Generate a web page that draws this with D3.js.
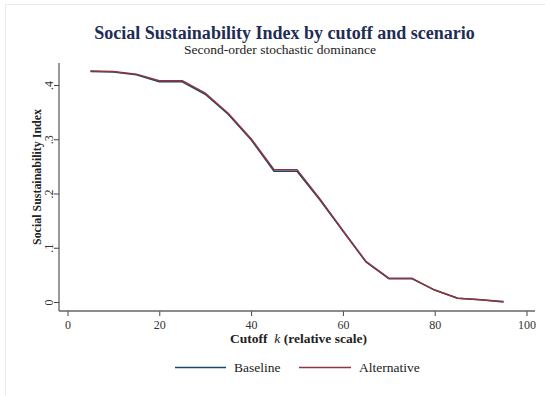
<!DOCTYPE html>
<html>
<head>
<meta charset="utf-8">
<script src="https://cdn.jsdelivr.net/npm/d3@7"></script>
<style>
  html, body { margin: 0; padding: 0; background: #ffffff; }
  svg { display: block; font-family: "Liberation Serif", "DejaVu Serif", serif; }
</style>
</head>
<body>
<svg id="chart" width="545" height="396"></svg>
<script>
// Cutoff values k (relative scale)
const cutoffs = [5, 10, 15, 20, 25, 30, 35, 40, 45, 50, 55, 60, 65, 70, 75, 80, 85, 90, 95];
// Social Sustainability Index per scenario
const baseline    = [0.425, 0.424, 0.419, 0.406, 0.406, 0.383, 0.346, 0.299, 0.241, 0.241, 0.188, 0.131, 0.074, 0.043, 0.043, 0.022, 0.007, 0.004, 0.000];
const alternative = [0.426, 0.425, 0.420, 0.408, 0.408, 0.385, 0.348, 0.301, 0.244, 0.244, 0.190, 0.132, 0.075, 0.044, 0.044, 0.022, 0.007, 0.004, 0.001];
const xTicks = [0, 20, 40, 60, 80, 100];
const yTicks = [0, 0.1, 0.2, 0.3, 0.4];
const yTickLabels = ["0", ".1", ".2", ".3", ".4"];
const seriesNames = ["Baseline", "Alternative"];
const seriesColors = ["#1a476f", "#90353b"];

(function () {
  const svg = d3.select("#chart");
  const serif = "Liberation Serif, DejaVu Serif, serif";

  // outer graph frame
  svg.append("rect")
    .attr("x", 5.5).attr("y", 4.5).attr("width", 560).attr("height", 420)
    .attr("fill", "#ffffff").attr("stroke", "#e3ecf1").attr("stroke-width", 1);

  // plot region
  const plotLeft = 59, plotRight = 535, plotTop = 63, plotBottom = 311;
  const x = d3.scaleLinear().domain([-1.85, 101.85]).range([plotLeft, plotRight]);
  const y = d3.scaleLinear().domain([0, 0.4]).range([302, 85]);

  // y axis
  const yAxis = d3.axisLeft(y).tickValues(yTicks)
    .tickFormat((d, i) => yTickLabels[i]).tickSize(5).tickSizeOuter(0);
  const gy = svg.append("g").attr("transform", `translate(${plotLeft},0)`).call(yAxis);
  gy.select(".domain").remove();
  gy.append("line").attr("x1", 0).attr("x2", 0).attr("y1", plotTop).attr("y2", plotBottom)
    .attr("stroke", "#444").attr("stroke-width", 1.1);
  gy.selectAll(".tick line").attr("stroke", "#444").attr("stroke-width", 1);
  gy.selectAll(".tick text")
    .attr("fill", "#333").attr("font-size", 12)
    .attr("font-family", serif)
    .attr("x", null).attr("dy", null)
    .attr("transform", "translate(-6,0) rotate(-90)")
    .attr("text-anchor", "middle");

  // x axis
  const xAxis = d3.axisBottom(x).tickValues(xTicks).tickSize(5).tickSizeOuter(0);
  const gx = svg.append("g").attr("transform", `translate(0,${plotBottom})`).call(xAxis);
  gx.select(".domain").remove();
  gx.append("line").attr("x1", plotLeft).attr("x2", plotRight).attr("y1", 0).attr("y2", 0)
    .attr("stroke", "#666").attr("stroke-width", 1.6);
  gx.selectAll(".tick line").attr("stroke", "#444").attr("stroke-width", 1);
  gx.selectAll(".tick text")
    .attr("fill", "#333").attr("font-size", 12)
    .attr("font-family", serif)
    .attr("y", 18).attr("dy", null);

  // series lines
  const data = [baseline, alternative];
  const line = d3.line().x((d, i) => x(cutoffs[i])).y(d => y(d));
  data.forEach((vals, s) => {
    svg.append("path").datum(vals)
      .attr("d", line)
      .attr("fill", "none")
      .attr("stroke", seriesColors[s])
      .attr("stroke-width", 1.5)
      .attr("stroke-linejoin", "round");
  });

  // fit a text element to a target width by scaling its font size
  function fitWidth(sel, target) {
    const fs = parseFloat(sel.attr("font-size"));
    const w = sel.node().getComputedTextLength();
    if (w > 0) sel.attr("font-size", (fs * target / w).toFixed(2));
  }

  // titles
  const title = svg.append("text")
    .attr("x", 284.5).attr("y", 39)
    .attr("text-anchor", "middle")
    .attr("font-size", 17).attr("font-weight", "bold")
    .attr("fill", "#1f2d55")
    .text("Social Sustainability Index by cutoff and scenario");
  fitWidth(title, 381);

  const subtitle = svg.append("text")
    .attr("x", 280).attr("y", 54)
    .attr("text-anchor", "middle")
    .attr("font-size", 12.5)
    .attr("fill", "#222")
    .text("Second-order stochastic dominance");
  fitWidth(subtitle, 192);

  // x axis title
  const xt = svg.append("text")
    .attr("x", 298.5).attr("y", 342.5)
    .attr("text-anchor", "middle")
    .attr("font-size", 13.5).attr("font-weight", "bold")
    .attr("fill", "#222");
  xt.append("tspan").text("Cutoff\u00a0\u00a0");
  xt.append("tspan").attr("font-style", "italic").attr("font-weight", "normal").text("k");
  xt.append("tspan").text(" (relative scale)");

  // y axis title
  const yt = svg.append("text")
    .attr("transform", "translate(40.5,177) rotate(-90)")
    .attr("text-anchor", "middle")
    .attr("font-size", 12.5).attr("font-weight", "bold")
    .attr("fill", "#222")
    .text("Social Sustainability Index");
  fitWidth(yt, 136);

  // legend
  const legendItems = [
    { x1: 175, x2: 226, tx: 234 },
    { x1: 299, x2: 351, tx: 359 }
  ];
  legendItems.forEach((it, i) => {
    svg.append("line")
      .attr("x1", it.x1).attr("x2", it.x2).attr("y1", 367.5).attr("y2", 367.5)
      .attr("stroke", seriesColors[i]).attr("stroke-width", 1.5);
    svg.append("text")
      .attr("x", it.tx).attr("y", 371.5)
      .attr("font-size", 13.5).attr("font-family", serif).attr("fill", "#222")
      .text(seriesNames[i]);
  });
})();
</script>
</body>
</html>
